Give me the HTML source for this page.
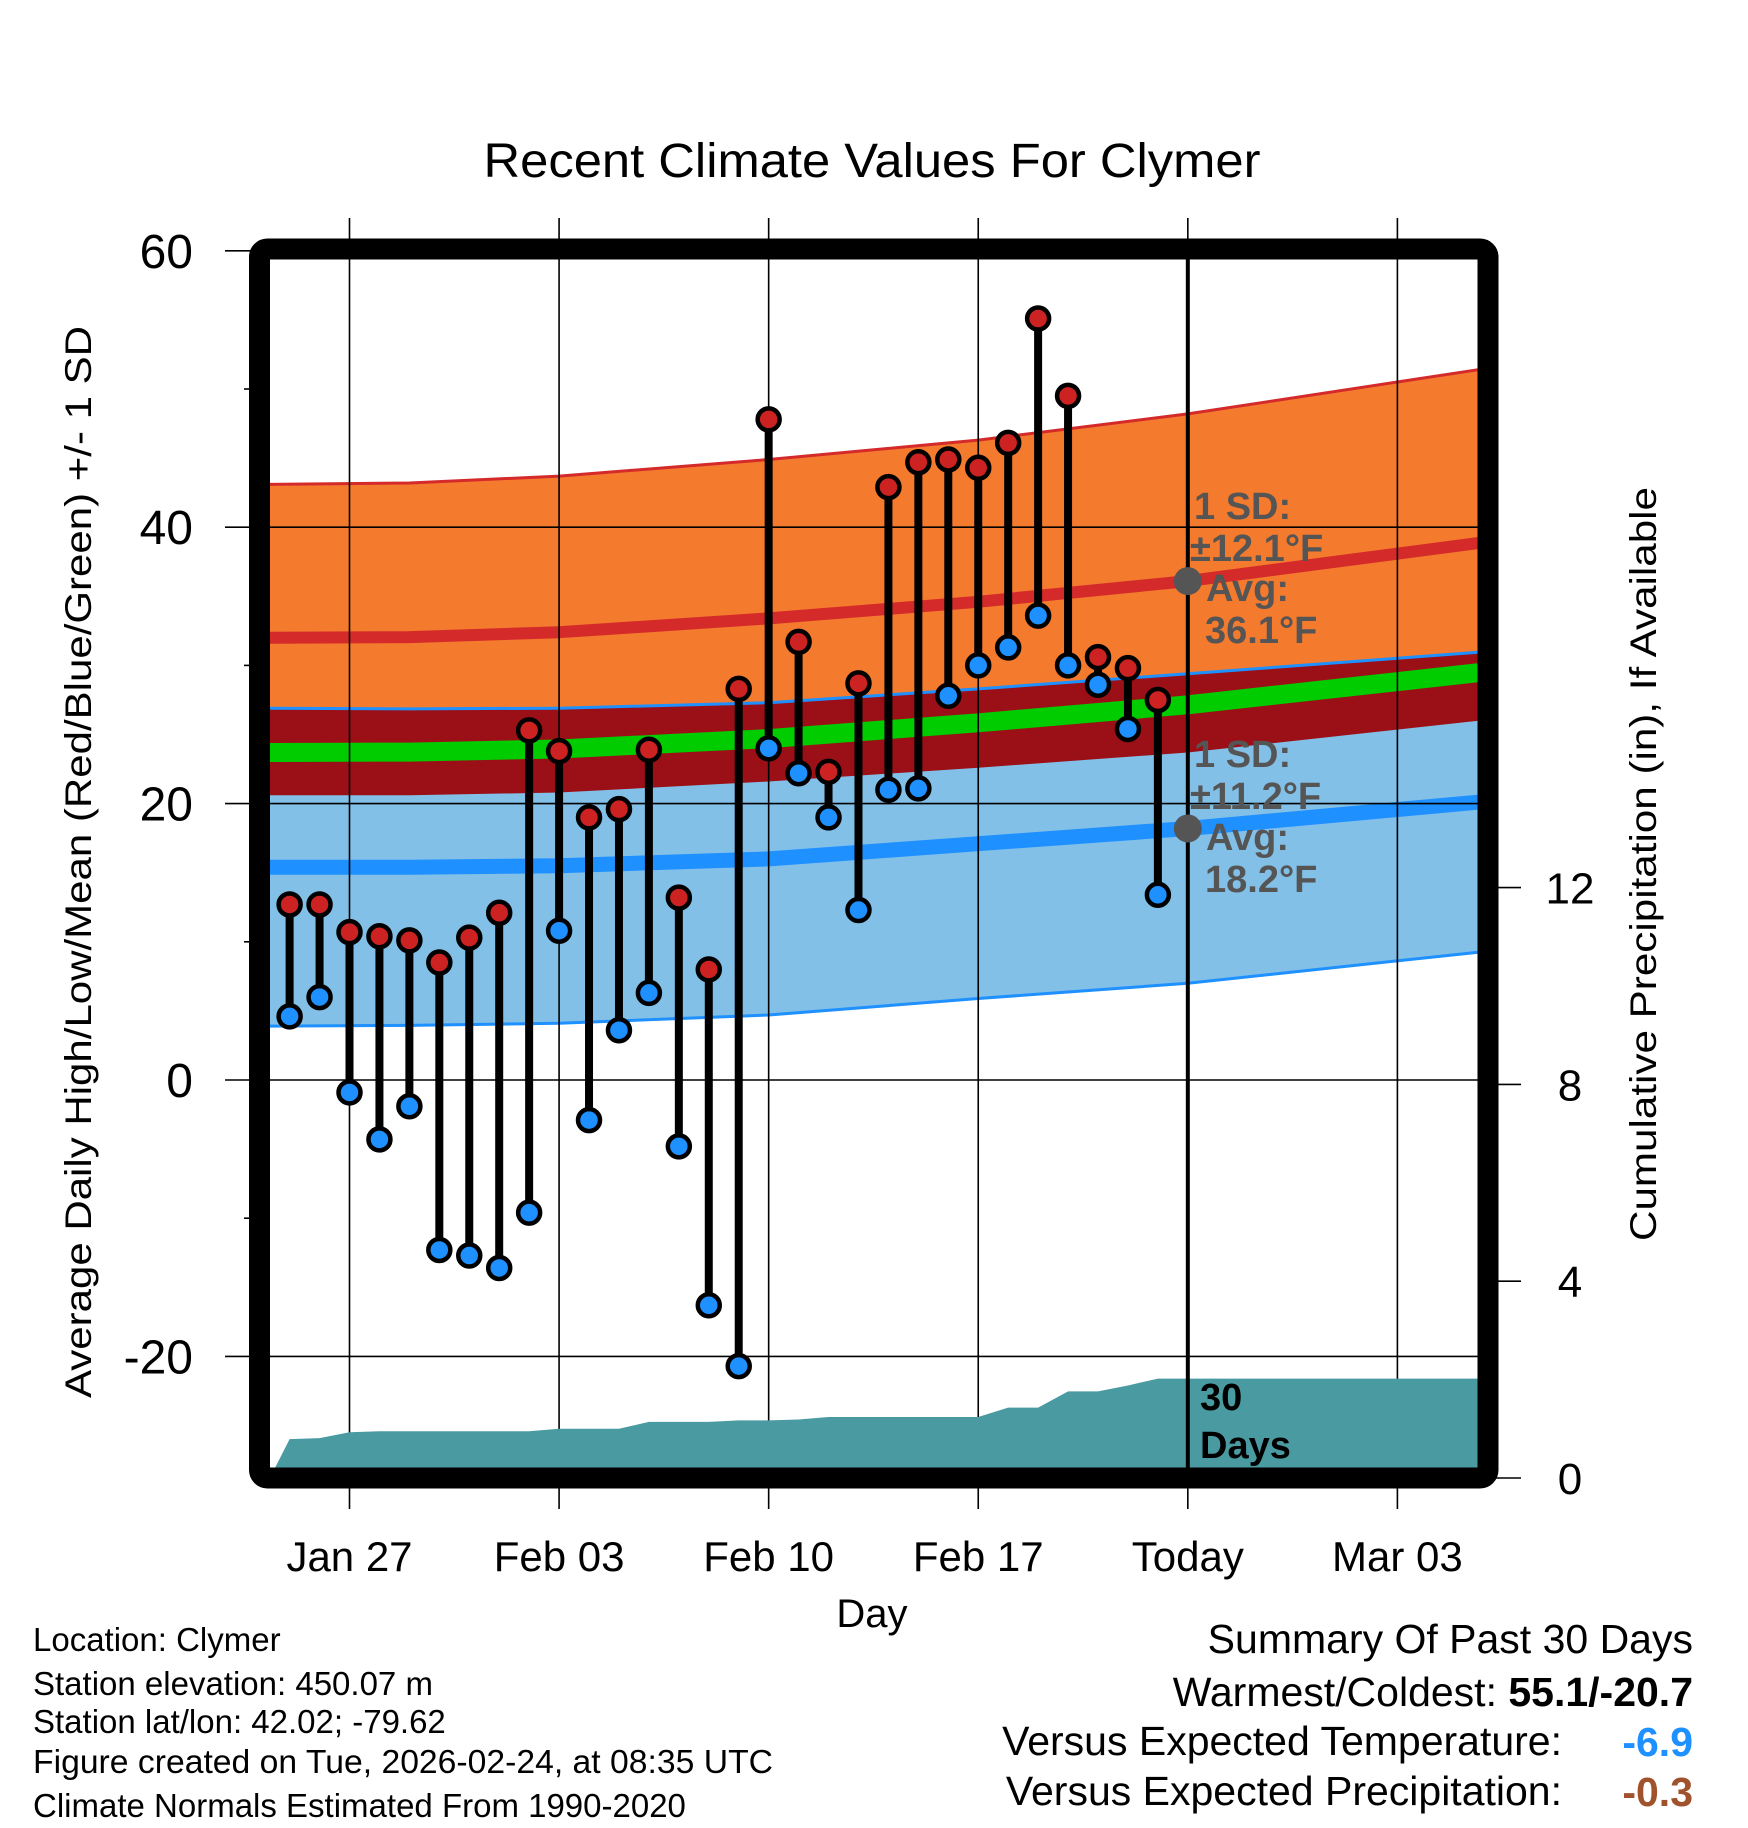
<!DOCTYPE html>
<html><head><meta charset="utf-8"><style>
html,body{margin:0;padding:0;background:#fff}
svg{display:block;font-family:"Liberation Sans",Arial,sans-serif}
</style></head><body>
<svg id="chart" width="1748" height="1828" viewBox="0 0 1748 1828" xmlns="http://www.w3.org/2000/svg">
<defs><clipPath id="plotclip"><rect x="260" y="249" width="1228" height="1229"/></clipPath></defs>
<text x="872" y="177" font-size="48" text-anchor="middle" textLength="777" lengthAdjust="spacingAndGlyphs">Recent Climate Values For Clymer</text>
<g id="bands" clip-path="url(#plotclip)"></g>
<g id="grid"></g>
<g id="precip" clip-path="url(#plotclip)"></g>
<g id="points"></g>
<rect x="259.5" y="249" width="1228.5" height="1229" rx="8" fill="none" stroke="#000" stroke-width="21"/>
<g id="labels"></g>
<text transform="translate(91,862) rotate(-90)" font-size="37" text-anchor="middle" textLength="1072" lengthAdjust="spacingAndGlyphs">Average Daily High/Low/Mean (Red/Blue/Green) +/- 1 SD</text>
<text transform="translate(1656,864) rotate(-90)" font-size="37" text-anchor="middle" textLength="754" lengthAdjust="spacingAndGlyphs">Cumulative Precipitation (in), If Available</text>
<text x="872" y="1627" font-size="40" text-anchor="middle">Day</text>
<g font-size="33">
<text x="33" y="1651">Location: Clymer</text>
<text x="33" y="1695">Station elevation: 450.07 m</text>
<text x="33" y="1733">Station lat/lon: 42.02; -79.62</text>
<text x="33" y="1773" textLength="740" lengthAdjust="spacingAndGlyphs">Figure created on Tue, 2026-02-24, at 08:35 UTC</text>
<text x="33" y="1817">Climate Normals Estimated From 1990-2020</text>
</g>
<g font-size="41">
<text x="1693" y="1653" text-anchor="end">Summary Of Past 30 Days</text>
<text x="1693" y="1706" text-anchor="end">Warmest/Coldest: <tspan font-weight="bold">55.1/-20.7</tspan></text>
<text x="1562" y="1755" text-anchor="end">Versus Expected Temperature:</text>
<text x="1693" y="1756" text-anchor="end" font-weight="bold" fill="#1e90ff">-6.9</text>
<text x="1562" y="1805" text-anchor="end">Versus Expected Precipitation:</text>
<text x="1693" y="1806" text-anchor="end" font-weight="bold" fill="#a0522d">-0.3</text>
</g>
</svg>
<script>
const highs=[12.7,12.7,10.7,10.4,10.1,8.5,10.3,12.1,25.3,23.8,19.0,19.6,23.9,13.2,8.0,28.3,47.8,31.7,22.3,28.7,42.9,44.7,44.9,44.3,46.1,55.1,49.5,30.6,29.8,27.5];
const lows=[4.6,6.0,-0.9,-4.3,-1.9,-12.3,-12.7,-13.6,-9.6,10.8,-2.9,3.6,6.3,-4.8,-16.3,-20.7,24.0,22.2,19.0,12.3,21.0,21.1,27.8,30.0,31.3,33.6,30.0,28.6,25.4,13.4];
const precip=[0.79,0.81,0.93,0.95,0.95,0.95,0.95,0.95,0.95,1.0,1.0,1.0,1.14,1.14,1.14,1.17,1.17,1.19,1.24,1.24,1.24,1.24,1.24,1.24,1.43,1.43,1.76,1.76,1.88,2.02];
const normDays=[-2.66,2,7,14,21,28,37.7];
const highAvg=[32.0,32.05,32.4,33.4,34.6,36.1,38.85];
const highSd=[11.1,11.15,11.3,11.5,11.7,12.1,12.55];
const lowAvg=[15.4,15.4,15.5,16.0,17.1,18.2,20.1];
const lowSd=[11.5,11.45,11.4,11.3,11.2,11.2,10.85];
const xTickDays=[0,7,14,21,28,35];
const xTickLabels=["Jan 27","Feb 03","Feb 10","Feb 17","Today","Mar 03"];
const yTicks=[60,40,20,0,-20];
const yMinor=[50,30,10,-10];
const y2Ticks=[0,4,8,12];
const todayDay=28, firstDay=-2;

const NS="http://www.w3.org/2000/svg";
function xOf(d){return 349.5+d*29.94;}
function yT(v){return 1080-v*13.82;}
function yP(p){return 1478-p*49.2;}
function mk(tag,parent,attrs){const e=document.createElementNS(NS,tag);for(const k in attrs)e.setAttribute(k,attrs[k]);parent.appendChild(e);return e;}
function pts(days,vals){return days.map((d,i)=>xOf(d).toFixed(1)+","+yT(vals[i]).toFixed(1));}

const bands=document.getElementById('bands');
const hU=highAvg.map((v,i)=>v+highSd[i]), hL=highAvg.map((v,i)=>v-highSd[i]-0.3);
const lU=lowAvg.map((v,i)=>v+lowSd[i]), lL=lowAvg.map((v,i)=>v-lowSd[i]);
const mean=highAvg.map((v,i)=>(v+lowAvg[i])/2);
function band(up,lo,fill,name){
 const p=pts(normDays,up).concat(pts(normDays,lo).reverse());
 const e=mk('polygon',bands,{points:p.join(' '),fill:fill});
 
 
}
function line(vals,color,w,name){
 const e=mk('polyline',bands,{points:pts(normDays,vals).join(' '),fill:'none',stroke:color,'stroke-width':w,'stroke-linejoin':'round'});
 
 
}
band(hU,hL,'#f47a2e','high-sd-band');
band(lU,lL,'#82c0e8','low-sd-band');
band(lU,hL,'#9a1016','overlap-band');
line(hU,'#d42a2a',3,'high-upper-line');
line(lU,'#1e90ff',3,'low-upper-line');
line(lL,'#1e90ff',3,'low-lower-line');
line(highAvg,'#d42a2a',12,'high-average-line');
line(lowAvg,'#1e90ff',15,'low-average-line');
line(mean,'#00cc00',19,'mean-line');

const grid=document.getElementById('grid');
xTickDays.forEach((d,i)=>{
 const x=xOf(d);
 const g=mk('line',grid,{x1:x,x2:x,y1:218,y2:1509,stroke:'#000','stroke-width':1.6});
 
 
 const t=mk('text',grid,{x:x,y:1571,'font-size':42,'text-anchor':'middle'});
 t.textContent=xTickLabels[i];
 
 
});
yTicks.forEach(v=>{
 const y=yT(v);
 const g=mk('line',grid,{x1:225,x2:1488,y1:y,y2:y,stroke:'#000','stroke-width':1.6});
 
 
 const t=mk('text',grid,{x:193,y:y+17,'font-size':48,'text-anchor':'end'});
 t.textContent=String(v);
 
 
});
yMinor.forEach(v=>{
 const y=yT(v);
 const g=mk('line',grid,{x1:244,x2:260,y1:y,y2:y,stroke:'#000','stroke-width':1.6});
 
 
});
y2Ticks.forEach(p=>{
 const y=yP(p);
 const g=mk('line',grid,{x1:1488,x2:1521,y1:y,y2:y,stroke:'#000','stroke-width':1.6});
 
 
 const t=mk('text',grid,{x:1570,y:y+16,'font-size':44,'text-anchor':'middle'});
 t.textContent=String(p);
 
 
});

const pg=document.getElementById('precip');
let pp=[xOf(-2.66)+","+yP(0)];
precip.forEach((p,i)=>pp.push(xOf(firstDay+i).toFixed(1)+","+yP(p).toFixed(1)));
pp.push("1490,"+yP(precip[precip.length-1]).toFixed(1));
pp.push("1490,"+yP(0));
const pa=mk('polygon',pg,{points:pp.join(' '),fill:'#4a9aa2'});



const pts2=document.getElementById('points');
const tl=mk('line',pts2,{x1:xOf(todayDay),x2:xOf(todayDay),y1:255,y2:1472,stroke:'#000','stroke-width':4});


highs.forEach((h,i)=>{
 const x=xOf(firstDay+i);
 const s=mk('line',pts2,{x1:x,x2:x,y1:yT(h),y2:yT(lows[i]),stroke:'#000','stroke-width':8});
 
 
});
highs.forEach((h,i)=>{
 const x=xOf(firstDay+i);
 const c1=mk('circle',pts2,{cx:x,cy:yT(h),r:11,fill:'#cc2222',stroke:'#000','stroke-width':4.5});
 
 
 const c2=mk('circle',pts2,{cx:x,cy:yT(lows[i]),r:11,fill:'#1e90ff',stroke:'#000','stroke-width':4.5});
 
 
});
const todayHigh=highAvg[5], todayLow=lowAvg[5];
[todayHigh,todayLow].forEach(v=>{
 const c=mk('circle',pts2,{cx:xOf(todayDay),cy:yT(v),r:14,fill:'#555'});
 
 
});
const lab=document.getElementById('labels');
function txt(x,y,s,name,size,fill){
 const t=mk('text',lab,{x:x,y:y,'font-size':size,'font-weight':'bold',fill:fill});
 t.textContent=s;
 
 
}
txt(1194,519,'1 SD:','high-sd-label',38,'#555');
txt(1190,561,'±12.1°F','high-sd-value',38,'#555');
txt(1206,601,'Avg:','high-avg-label',38,'#555');
txt(1205,643,'36.1°F','high-avg-value',38,'#555');
txt(1194,767,'1 SD:','low-sd-label',38,'#555');
txt(1190,809,'±11.2°F','low-sd-value',38,'#555');
txt(1206,850,'Avg:','low-avg-label',38,'#555');
txt(1205,892,'18.2°F','low-avg-value',38,'#555');
txt(1200,1410,'30','days-count',38,'#000');
txt(1200,1458,'Days','days-label',38,'#000');
</script>
</body></html>
